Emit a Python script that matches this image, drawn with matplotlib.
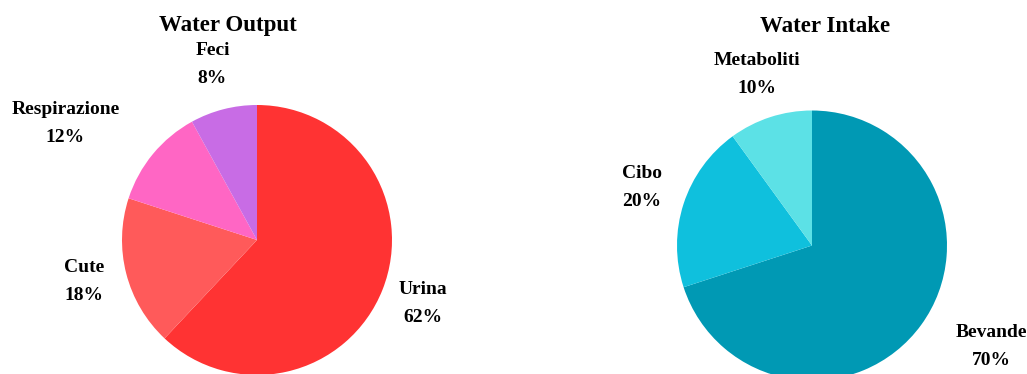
import matplotlib.pyplot as plt

#======#
# Data #
#======#

OUTPUT_LABELS = ["Urina", "Cute", "Respirazione", "Feci"]
OUTPUT_VALUES = [62, 18, 12, 8]
OUTPUT_COLORS = ["#FF3333", "#FF5A5A", "#FF66C4", "#C86CE5"]

INTAKE_LABELS = ["Bevande", "Cibo", "Metaboliti"]
INTAKE_VALUES = [70, 20, 10]
INTAKE_COLORS = ["#0099B4", "#0FC0DD", "#5CE1E6"]

#==========#
# Settings #
#==========#

W, H = 1027, 374
R = 135          # pie radius in pixels
S = 260          # half size of each axes box in pixels
GAP = 14 / R     # half distance between the two label lines
FONT = "Liberation Serif"

# label positions, in units of the pie radius, relative to the center
OUTPUT_LABEL_POS = [(1.23, -0.47), (-1.28, -0.31), (-1.42, 0.86), (-0.33, 1.30)]
INTAKE_LABEL_POS = [(1.33, -0.75), (-1.26, 0.43), (-0.41, 1.27)]


def draw_pie(fig, cx, cy, values, labels, colors, label_pos, title, title_xy):
    """ Draws one pie centered at (cx, cy) figure pixels (y from top). """
    ax = fig.add_axes([(cx - S) / W, (H - cy - S) / H, 2 * S / W, 2 * S / H])
    ax.pie(values, colors=colors, startangle=90, counterclock=False,
           wedgeprops=dict(linewidth=0))
    lim = S / R
    ax.set_xlim(-lim, lim)
    ax.set_ylim(-lim, lim)
    ax.set_aspect("equal")
    ax.axis("off")

    for lab, val, (x, y) in zip(labels, values, label_pos):
        ax.text(x, y + GAP, lab, ha="center", va="center",
                fontsize=14, fontweight="bold", family=FONT)
        ax.text(x, y - GAP, f"{val}%", ha="center", va="center",
                fontsize=14, fontweight="bold", family=FONT)

    fig.text(title_xy[0] / W, 1 - title_xy[1] / H, title, ha="center",
             va="center", fontsize=16.5, fontweight="bold", family=FONT)


fig = plt.figure(figsize=(W / 100, H / 100), dpi=100)

draw_pie(fig, 257, 240, OUTPUT_VALUES, OUTPUT_LABELS, OUTPUT_COLORS,
         OUTPUT_LABEL_POS, "Water Output", (228, 25))
draw_pie(fig, 812, 245.5, INTAKE_VALUES, INTAKE_LABELS, INTAKE_COLORS,
         INTAKE_LABEL_POS, "Water Intake", (825, 27))

fig.savefig("out.png", dpi=100)
